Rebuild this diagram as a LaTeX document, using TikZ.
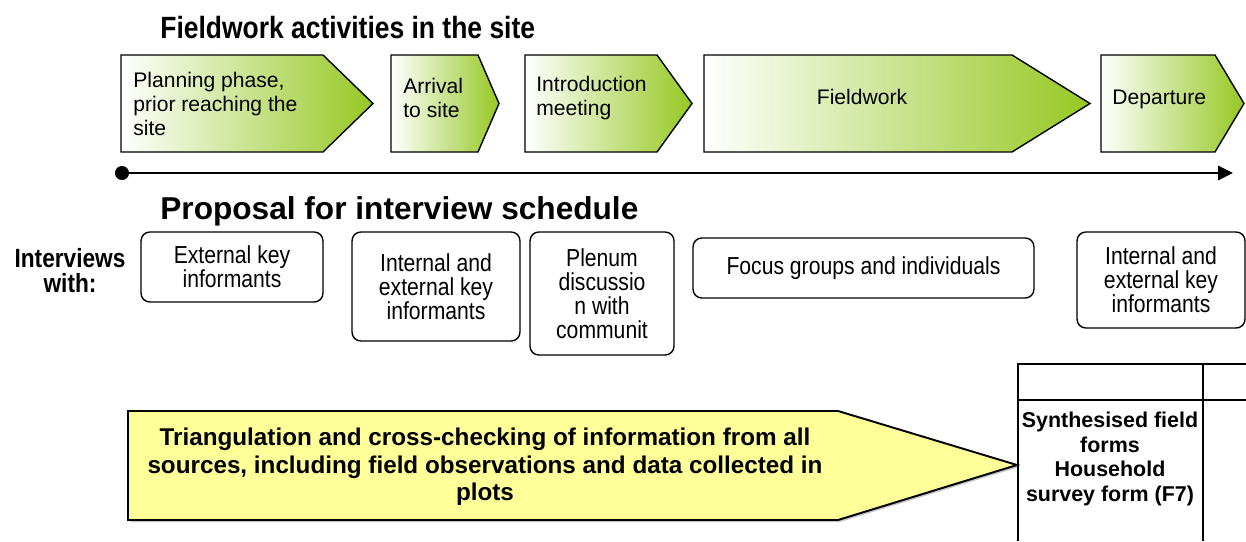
\documentclass[tikz,border=0pt]{standalone}
\usepackage{fontspec}
\setmainfont{Liberation Sans}
\newfontfamily\narrowsans[FakeStretch=0.86]{Liberation Sans}
\usetikzlibrary{arrows.meta}
\definecolor{chevgreen}{RGB}{150,200,35}
\definecolor{triyellow}{RGB}{255,255,153}

\begin{document}
\begin{tikzpicture}[x=0.02cm, y=-0.02cm,
    chev/.style={draw, line width=0.8pt, left color=white, right color=chevgreen},
    chevtext/.style={inner sep=0pt, align=left, font=\fontsize{12}{13.6}\selectfont},
    interview/.style={draw, line width=0.8pt, rounded corners=5pt, align=center, inner sep=0pt,
        font=\narrowsans\fontsize{14}{13.6}\selectfont},
    headline/.style={inner sep=0pt, anchor=west}]
    \useasboundingbox (0,0) rectangle (1246,541);

    \node[headline, font=\narrowsans\bfseries\fontsize{17.5}{20}\selectfont] (fieldtitle) at (160,28) {Fieldwork activities in the site};

    \shadedraw[chev] (121,55) -- (323,55) -- (373,103.5) -- (323,152) -- (121,152) -- cycle;
    \shadedraw[chev] (391,55) -- (478,55) -- (499,103.5) -- (478,152) -- (391,152) -- cycle;
    \shadedraw[chev] (525,55) -- (657,55) -- (692,103.5) -- (657,152) -- (525,152) -- cycle;
    \shadedraw[chev] (704,55) -- (1012,55) -- (1090,103.5) -- (1012,152) -- (704,152) -- cycle;
    \shadedraw[chev] (1101,55) -- (1215,55) -- (1244,103.5) -- (1215,152) -- (1101,152) -- cycle;
    \node[chevtext, anchor=west] (planning) at (133,104) {Planning phase,\\prior reaching the\\site};
    \node[chevtext, anchor=west] (arrival) at (403,98) {Arrival\\to site};
    \node[chevtext, anchor=west] (intro) at (536,98) {Introduction\\meeting};
    \node[chevtext] (fieldwork) at (862,97) {Fieldwork};
    \node[chevtext, anchor=west] (departure) at (1112,99) {Departure};

    \coordinate (tstart) at (122,173);
    \coordinate (tend) at (1233,173);
    \fill (tstart) circle[radius=4pt];
    \draw[line width=1.7pt, -{Triangle[length=8.5pt, width=8pt]}] (tstart) -- (tend);

    \node[headline, font=\bfseries\fontsize{18}{20}\selectfont] (proptitle) at (160,211) {Proposal for interview schedule};
    \node[align=center, inner sep=0pt, font=\narrowsans\bfseries\fontsize{15}{14.2}\selectfont] (intlabel) at (70,271) {Interviews\\with:};

    \node[interview, minimum width=3.64cm, minimum height=1.4cm] (extkey) at (232,267) {External key\\informants};
    \node[interview, minimum width=3.36cm, minimum height=2.18cm] (intkey) at (436,286.5) {Internal and\\external key\\informants};
    \node[interview, minimum width=2.88cm, minimum height=2.46cm] (plenum) at (602,293.5) {Plenum\\discussio\\n with\\communit};
    \node[interview, minimum width=6.82cm, minimum height=1.2cm] (focus) at (863.5,268) {Focus groups and individuals};
    \node[interview, minimum width=3.36cm, minimum height=1.92cm] (intkeylate) at (1161,280) {Internal and\\external key\\informants};

    \fill[gray!45] (130,413) -- (840,413) -- (1019,467) -- (840,522) -- (130,522) -- cycle;
    \filldraw[fill=triyellow, line width=1.1pt] (128,411) -- (838,411) -- (1017,465) -- (838,520) -- (128,520) -- cycle;
    \node[align=center, inner sep=0pt, font=\bfseries\fontsize{13.8}{15.6}\selectfont] (triangulation) at (485,467)
        {Triangulation and cross-checking of information from all\\sources, including field observations and data collected in\\plots};

    \draw[line width=1.1pt] (1246,364) -- (1018,364) -- (1018,541);
    \draw[line width=1.1pt] (1203,364) -- (1203,541);
    \draw[line width=1.1pt] (1018,400) -- (1246,400);
    \node[align=center, inner sep=0pt, font=\bfseries\fontsize{12.2}{13.9}\selectfont] (synth) at (1110,459)
        {Synthesised field\\forms\\Household\\survey form (F7)};
\end{tikzpicture}
\end{document}
